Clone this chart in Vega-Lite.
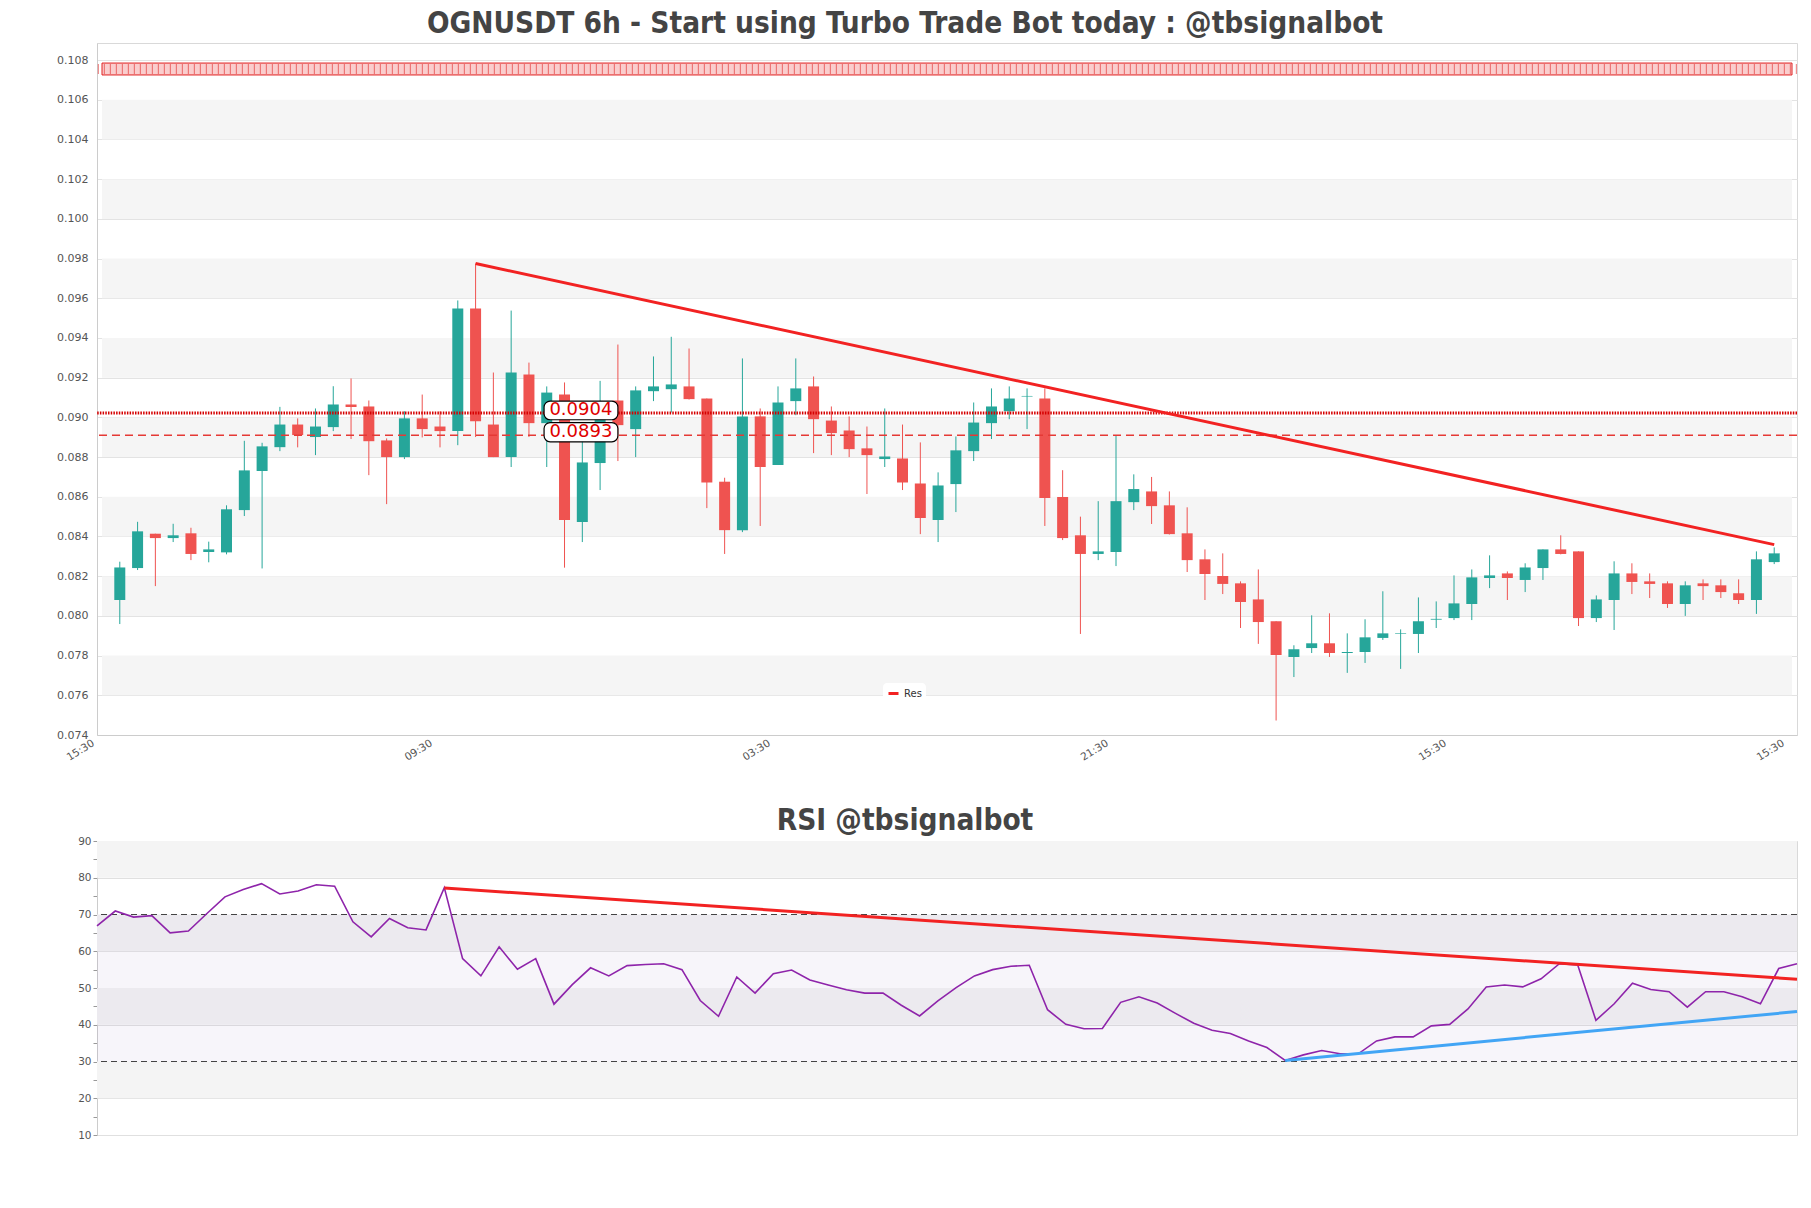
{
  "$schema": "https://vega.github.io/schema/vega-lite/v6.json",
  "background": "white",
  "padding": {"left": 56, "top": 8, "right": 10, "bottom": 10},
  "spacing": 41,
  "config": {
    "font": "DejaVu Sans",
    "view": {"stroke": "#d9d9d9", "strokeWidth": 1},
    "axis": {"labelOverlap": false},
    "title": {"font": "DejaVu Sans Condensed", "fontSize": 29.5, "fontWeight": "bold", "color": "#444444", "anchor": "middle", "dx": -42, "offset": 4}
  },
  "datasets": {
    "candles": [
      {"i":0,"o":0.0808,"h":0.08273,"l":0.07959,"c":0.08244},
      {"i":1,"o":0.08241,"h":0.08474,"l":0.08231,"c":0.08426},
      {"i":2,"o":0.08414,"h":0.08414,"l":0.0815,"c":0.08392},
      {"i":3,"o":0.08392,"h":0.08464,"l":0.08372,"c":0.08406},
      {"i":4,"o":0.08416,"h":0.08444,"l":0.08281,"c":0.08312},
      {"i":5,"o":0.08322,"h":0.08374,"l":0.0827,"c":0.08335},
      {"i":6,"o":0.0832,"h":0.08557,"l":0.0831,"c":0.08537},
      {"i":7,"o":0.08533,"h":0.08882,"l":0.08503,"c":0.08733},
      {"i":8,"o":0.0873,"h":0.08872,"l":0.08239,"c":0.08854},
      {"i":9,"o":0.0885,"h":0.09053,"l":0.0883,"c":0.08964},
      {"i":10,"o":0.08964,"h":0.08995,"l":0.08849,"c":0.08911},
      {"i":11,"o":0.08901,"h":0.09045,"l":0.0881,"c":0.08954},
      {"i":12,"o":0.08951,"h":0.09157,"l":0.08931,"c":0.09065},
      {"i":13,"o":0.09065,"h":0.09196,"l":0.08891,"c":0.09052},
      {"i":14,"o":0.09055,"h":0.09085,"l":0.08709,"c":0.0888},
      {"i":15,"o":0.08884,"h":0.08894,"l":0.08563,"c":0.088},
      {"i":16,"o":0.088,"h":0.09031,"l":0.0879,"c":0.08995},
      {"i":17,"o":0.08995,"h":0.09115,"l":0.08899,"c":0.08941},
      {"i":18,"o":0.08954,"h":0.09031,"l":0.08849,"c":0.08931},
      {"i":19,"o":0.08931,"h":0.09589,"l":0.0886,"c":0.09548},
      {"i":20,"o":0.09548,"h":0.09775,"l":0.08901,"c":0.08981},
      {"i":21,"o":0.08964,"h":0.09226,"l":0.088,"c":0.088},
      {"i":22,"o":0.088,"h":0.09538,"l":0.0875,"c":0.09226},
      {"i":23,"o":0.09216,"h":0.09276,"l":0.08901,"c":0.08971},
      {"i":24,"o":0.08971,"h":0.09156,"l":0.0875,"c":0.09125},
      {"i":25,"o":0.09115,"h":0.09176,"l":0.08243,"c":0.08483},
      {"i":26,"o":0.08473,"h":0.0892,"l":0.08372,"c":0.08773},
      {"i":27,"o":0.0877,"h":0.09184,"l":0.08634,"c":0.09},
      {"i":28,"o":0.09085,"h":0.09367,"l":0.0878,"c":0.08961},
      {"i":29,"o":0.08941,"h":0.09156,"l":0.088,"c":0.09136},
      {"i":30,"o":0.09132,"h":0.09307,"l":0.09082,"c":0.09156},
      {"i":31,"o":0.09142,"h":0.09406,"l":0.09025,"c":0.09166},
      {"i":32,"o":0.09156,"h":0.09347,"l":0.0909,"c":0.09092},
      {"i":33,"o":0.09095,"h":0.09095,"l":0.08543,"c":0.08672},
      {"i":34,"o":0.08676,"h":0.08696,"l":0.08312,"c":0.08432},
      {"i":35,"o":0.08432,"h":0.09297,"l":0.08422,"c":0.09005},
      {"i":36,"o":0.09005,"h":0.09045,"l":0.08453,"c":0.0875},
      {"i":37,"o":0.0876,"h":0.09156,"l":0.0876,"c":0.09075},
      {"i":38,"o":0.09082,"h":0.09297,"l":0.09011,"c":0.09146},
      {"i":39,"o":0.09156,"h":0.09206,"l":0.0882,"c":0.08991},
      {"i":40,"o":0.08984,"h":0.09055,"l":0.0881,"c":0.08921},
      {"i":41,"o":0.08934,"h":0.09005,"l":0.088,"c":0.0884},
      {"i":42,"o":0.08844,"h":0.08954,"l":0.08614,"c":0.0881},
      {"i":43,"o":0.0879,"h":0.09045,"l":0.0875,"c":0.08803},
      {"i":44,"o":0.08793,"h":0.08964,"l":0.08634,"c":0.08672},
      {"i":45,"o":0.08667,"h":0.08874,"l":0.08412,"c":0.08493},
      {"i":46,"o":0.08483,"h":0.08723,"l":0.08372,"c":0.08657},
      {"i":47,"o":0.08664,"h":0.08904,"l":0.08523,"c":0.08834},
      {"i":48,"o":0.0883,"h":0.09075,"l":0.0878,"c":0.08974},
      {"i":49,"o":0.08971,"h":0.09146,"l":0.08891,"c":0.09055},
      {"i":50,"o":0.09031,"h":0.09156,"l":0.08991,"c":0.09095},
      {"i":51,"o":0.09105,"h":0.09146,"l":0.08941,"c":0.09108},
      {"i":52,"o":0.09095,"h":0.09146,"l":0.08453,"c":0.08594},
      {"i":53,"o":0.08599,"h":0.08734,"l":0.08382,"c":0.08392},
      {"i":54,"o":0.08406,"h":0.085,"l":0.07909,"c":0.08312},
      {"i":55,"o":0.08312,"h":0.08578,"l":0.08281,"c":0.08325},
      {"i":56,"o":0.08322,"h":0.08911,"l":0.08251,"c":0.08578},
      {"i":57,"o":0.08573,"h":0.08713,"l":0.08533,"c":0.08639},
      {"i":58,"o":0.08627,"h":0.087,"l":0.08463,"c":0.08553},
      {"i":59,"o":0.08557,"h":0.08627,"l":0.0841,"c":0.08412},
      {"i":60,"o":0.08416,"h":0.08547,"l":0.08221,"c":0.08281},
      {"i":61,"o":0.08285,"h":0.08335,"l":0.0808,"c":0.08211},
      {"i":62,"o":0.08201,"h":0.08315,"l":0.0811,"c":0.08161},
      {"i":63,"o":0.08164,"h":0.08174,"l":0.07939,"c":0.0807},
      {"i":64,"o":0.08083,"h":0.08234,"l":0.07859,"c":0.07969},
      {"i":65,"o":0.07973,"h":0.07973,"l":0.07473,"c":0.07803},
      {"i":66,"o":0.07793,"h":0.07852,"l":0.07692,"c":0.07832},
      {"i":67,"o":0.07838,"h":0.08003,"l":0.07813,"c":0.07862},
      {"i":68,"o":0.07862,"h":0.08013,"l":0.07793,"c":0.07813},
      {"i":69,"o":0.07813,"h":0.07912,"l":0.07713,"c":0.07818},
      {"i":70,"o":0.07818,"h":0.07983,"l":0.07763,"c":0.07892},
      {"i":71,"o":0.07889,"h":0.08124,"l":0.07879,"c":0.07912},
      {"i":72,"o":0.07909,"h":0.07932,"l":0.07733,"c":0.07912},
      {"i":73,"o":0.07909,"h":0.08093,"l":0.07813,"c":0.07973},
      {"i":74,"o":0.07981,"h":0.08073,"l":0.07939,"c":0.07985},
      {"i":75,"o":0.07989,"h":0.08204,"l":0.07979,"c":0.08063},
      {"i":76,"o":0.0806,"h":0.08234,"l":0.07979,"c":0.08194},
      {"i":77,"o":0.08191,"h":0.08305,"l":0.0814,"c":0.08204},
      {"i":78,"o":0.08214,"h":0.08224,"l":0.0808,"c":0.08191},
      {"i":79,"o":0.08181,"h":0.08265,"l":0.0812,"c":0.08244},
      {"i":80,"o":0.08241,"h":0.08335,"l":0.08181,"c":0.08335},
      {"i":81,"o":0.08335,"h":0.08406,"l":0.0831,"c":0.08312},
      {"i":82,"o":0.08325,"h":0.08325,"l":0.07949,"c":0.07989},
      {"i":83,"o":0.07989,"h":0.08103,"l":0.07969,"c":0.08083},
      {"i":84,"o":0.0808,"h":0.08275,"l":0.07929,"c":0.08214},
      {"i":85,"o":0.08214,"h":0.08265,"l":0.0811,"c":0.08171},
      {"i":86,"o":0.08174,"h":0.08214,"l":0.0809,"c":0.08161},
      {"i":87,"o":0.08164,"h":0.08174,"l":0.0804,"c":0.0806},
      {"i":88,"o":0.0806,"h":0.08174,"l":0.08,"c":0.08154},
      {"i":89,"o":0.08164,"h":0.08184,"l":0.0808,"c":0.0815},
      {"i":90,"o":0.08154,"h":0.08184,"l":0.0809,"c":0.0812},
      {"i":91,"o":0.08114,"h":0.08184,"l":0.0806,"c":0.0808},
      {"i":92,"o":0.0808,"h":0.08325,"l":0.0801,"c":0.08285},
      {"i":93,"o":0.08271,"h":0.08345,"l":0.08261,"c":0.08315}
    ],
    "rsi": [
      {"i":0,"v":66.9},{"i":1,"v":70.95},{"i":2,"v":69.3},{"i":3,"v":69.7},{"i":4,"v":65.0},{"i":5,"v":65.5},{"i":6,"v":70.2},{"i":7,"v":74.8},{"i":8,"v":76.8},{"i":9,"v":78.4},
      {"i":10,"v":75.6},{"i":11,"v":76.4},{"i":12,"v":78.1},{"i":13,"v":77.7},{"i":14,"v":68.0},{"i":15,"v":63.9},{"i":16,"v":68.9},{"i":17,"v":66.4},{"i":18,"v":65.8},{"i":19,"v":77.3},
      {"i":20,"v":58.0},{"i":21,"v":53.3},{"i":22,"v":61.2},{"i":23,"v":55.1},{"i":24,"v":58.0},{"i":25,"v":45.6},{"i":26,"v":50.9},{"i":27,"v":55.5},{"i":28,"v":53.3},{"i":29,"v":56.1},
      {"i":30,"v":56.4},{"i":31,"v":56.6},{"i":32,"v":55.0},{"i":33,"v":46.6},{"i":34,"v":42.3},{"i":35,"v":53.0},{"i":36,"v":48.6},{"i":37,"v":53.9},{"i":38,"v":54.9},{"i":39,"v":52.2},
      {"i":40,"v":50.8},{"i":41,"v":49.5},{"i":42,"v":48.6},{"i":43,"v":48.6},{"i":44,"v":45.3},{"i":45,"v":42.4},{"i":46,"v":46.5},{"i":47,"v":50.1},{"i":48,"v":53.3},{"i":49,"v":55.0},
      {"i":50,"v":55.9},{"i":51,"v":56.2},{"i":52,"v":44.1},{"i":53,"v":40.1},{"i":54,"v":38.9},{"i":55,"v":39.0},{"i":56,"v":46.1},{"i":57,"v":47.6},{"i":58,"v":45.9},{"i":59,"v":43.1},
      {"i":60,"v":40.4},{"i":61,"v":38.5},{"i":62,"v":37.6},{"i":63,"v":35.6},{"i":64,"v":33.8},{"i":65,"v":30.3},{"i":66,"v":31.8},{"i":67,"v":33.0},{"i":68,"v":32.1},{"i":69,"v":32.1},
      {"i":70,"v":35.6},{"i":71,"v":36.7},{"i":72,"v":36.7},{"i":73,"v":39.7},{"i":74,"v":40.1},{"i":75,"v":44.3},{"i":76,"v":50.3},{"i":77,"v":50.8},{"i":78,"v":50.3},{"i":79,"v":52.5},
      {"i":80,"v":56.6},{"i":81,"v":56.3},{"i":82,"v":41.2},{"i":83,"v":45.7},{"i":84,"v":51.3},{"i":85,"v":49.6},{"i":86,"v":49.0},{"i":87,"v":44.8},{"i":88,"v":49.0},{"i":89,"v":49.0},
      {"i":90,"v":47.6},{"i":91,"v":45.7},{"i":92,"v":55.3},{"i":93,"v":56.6}
    ],
    "bandsTop": [
      {"y0":0.076,"y1":0.078},{"y0":0.080,"y1":0.082},{"y0":0.084,"y1":0.086},{"y0":0.088,"y1":0.090},
      {"y0":0.092,"y1":0.094},{"y0":0.096,"y1":0.098},{"y0":0.100,"y1":0.102},{"y0":0.104,"y1":0.106}
    ],
    "bandsRsi": [
      {"y0":20,"y1":30},{"y0":40,"y1":50},{"y0":60,"y1":70},{"y0":80,"y1":90}
    ],
    "resTrend": [
      {"i":20,"p":0.09775,"name":"Res"},{"i":93,"p":0.08359,"name":"Res"}
    ],
    "levelLabels": [
      {"x0":23.85,"x1":28.0,"b0":0.08988,"b1":0.09082,"ty":0.09035,"tx":25.92,"label":"0.0904"},
      {"x0":23.85,"x1":28.0,"b0":0.08877,"b1":0.08974,"ty":0.08926,"tx":25.92,"label":"0.0893"}
    ],
    "rsiRes": [{"i":19,"v":77.2},{"i":93,"v":52.4}],
    "rsiSup": [{"i":65,"v":30.3},{"i":93,"v":43.6}],
    "one": [{}]
  },
  "vconcat": [
    {
      "width": 1700,
      "height": 692,
      "title": {"text": "OGNUSDT 6h - Start using Turbo Trade Bot today : @tbsignalbot"},
      "layer": [
        {
          "data": {"name": "bandsTop"},
          "mark": {"type": "rect", "color": "#f5f5f5"},
          "encoding": {
            "x": {"datum": -1, "type": "quantitative", "scale": {"domain": [-1, 94], "nice": false, "zero": false},
              "axis": {"values": [-1, 18, 37, 56, 75, 94], "labelExpr": "datum.value == -1 ? '15:30' : datum.value == 18 ? '09:30' : datum.value == 37 ? '03:30' : datum.value == 56 ? '21:30' : '15:30'", "labelAngle": -32, "labelAlign": "right", "labelBaseline": "middle", "labelPadding": 7, "labelOffset": -9, "ticks": false, "grid": false, "domainColor": "#cccccc", "labelColor": "#555555", "labelFontSize": 10.5, "title": null, "labelOverlap": false, "labelBound": false, "labelFlush": false}},
            "x2": {"datum": 94},
            "y": {"field": "y0", "type": "quantitative", "scale": {"domain": [0.074, 0.10886], "nice": false, "zero": false},
              "axis": {"values": [0.074,0.076,0.078,0.08,0.082,0.084,0.086,0.088,0.09,0.092,0.094,0.096,0.098,0.1,0.102,0.104,0.106,0.108], "format": ".3f", "grid": true, "gridColor": "#e3e3e3", "ticks": false, "labelPadding": 9, "domainColor": "#cccccc", "labelColor": "#555555", "labelFontSize": 11, "title": null, "labelFlush": false, "labelOverlap": false}},
            "y2": {"field": "y1"}
          }
        },
        {
          "data": {"name": "one"},
          "mark": {"type": "rect", "fill": "#f07070", "fillOpacity": 0.35, "stroke": "#e02020", "strokeWidth": 1},
          "encoding": {
            "x": {"datum": -1, "type": "quantitative"},
            "x2": {"datum": 94},
            "y": {"datum": 0.10725, "type": "quantitative"},
            "y2": {"datum": 0.10785}
          }
        },
        {
          "data": {"name": "one"},
          "mark": {"type": "rule", "color": "#e02020", "strokeWidth": 10, "strokeDash": [1.2, 4.8], "opacity": 0.5},
          "encoding": {"y": {"datum": 0.10755, "type": "quantitative"}}
        },
        {
          "data": {"name": "candles"},
          "mark": {"type": "rule", "strokeWidth": 1},
          "encoding": {
            "x": {"field": "i", "type": "quantitative"},
            "y": {"field": "l", "type": "quantitative"},
            "y2": {"field": "h"},
            "color": {"condition": {"test": "datum.c >= datum.o", "value": "#26a69a"}, "value": "#ef5350"}
          }
        },
        {
          "data": {"name": "candles"},
          "mark": {"type": "bar", "size": 11},
          "encoding": {
            "x": {"field": "i", "type": "quantitative"},
            "y": {"field": "o", "type": "quantitative"},
            "y2": {"field": "c"},
            "color": {"condition": {"test": "datum.c >= datum.o", "value": "#26a69a"}, "value": "#ef5350"}
          }
        },
        {
          "data": {"name": "one"},
          "mark": {"type": "rule", "color": "#d50000", "strokeWidth": 3, "strokeDash": [1.5, 1.2]},
          "encoding": {"y": {"datum": 0.09022, "type": "quantitative"}}
        },
        {
          "data": {"name": "one"},
          "mark": {"type": "rule", "color": "#e53935", "strokeWidth": 1.5, "strokeDash": [8, 5]},
          "encoding": {"y": {"datum": 0.0891, "type": "quantitative"}}
        },
        {
          "data": {"name": "resTrend"},
          "mark": {"type": "line", "strokeWidth": 3},
          "encoding": {
            "x": {"field": "i", "type": "quantitative"},
            "y": {"field": "p", "type": "quantitative"},
            "color": {"field": "name", "type": "nominal", "scale": {"range": ["#f22222"]},
              "legend": {"title": null, "orient": "none", "legendX": 786, "legendY": 640, "fillColor": "white", "padding": 4, "cornerRadius": 4, "symbolType": "stroke", "symbolStrokeWidth": 3, "symbolSize": 100, "symbolStrokeColor": "#d01010", "labelFontSize": 10, "labelColor": "#333333"}}
          }
        },
        {
          "data": {"name": "levelLabels"},
          "mark": {"type": "rect", "fill": "white", "stroke": "black", "strokeWidth": 1.2, "cornerRadius": 6},
          "encoding": {
            "x": {"field": "x0", "type": "quantitative"},
            "x2": {"field": "x1"},
            "y": {"field": "b0", "type": "quantitative"},
            "y2": {"field": "b1"}
          }
        },
        {
          "data": {"name": "levelLabels"},
          "mark": {"type": "text", "color": "#e00000", "fontSize": 18, "font": "DejaVu Sans", "baseline": "middle", "align": "center"},
          "encoding": {
            "x": {"field": "tx", "type": "quantitative"},
            "y": {"field": "ty", "type": "quantitative"},
            "text": {"field": "label"}
          }
        }
      ]
    },
    {
      "width": 1700,
      "height": 294,
      "title": {"text": "RSI @tbsignalbot", "offset": 0},
      "layer": [
        {
          "data": {"name": "rsi"},
          "mark": {"type": "line", "color": "#8e24aa", "strokeWidth": 1.6, "opacity": 0},
          "encoding": {
            "x": {"field": "i", "type": "quantitative", "scale": {"domain": [0, 93], "nice": false, "zero": false},
              "axis": {"labels": false, "ticks": false, "domain": false, "grid": false, "title": null}},
            "y": {"field": "v", "type": "quantitative", "scale": {"domain": [10, 90], "nice": false, "zero": false},
              "axis": {"values": [10,15,20,25,30,35,40,45,50,55,60,65,70,75,80,85,90], "tickCount": 17, "labelExpr": "datum.value % 10 === 0 ? datum.label : ''", "grid": true, "gridColor": "#e0e0e0", "gridOpacity": {"condition": {"test": "datum.value % 10 === 0", "value": 1}, "value": 0}, "ticks": true, "tickSize": 4, "tickColor": "#999999", "labelPadding": 2, "domainColor": "#cccccc", "labelColor": "#555555", "labelFontSize": 10.5, "title": null, "labelFlush": false, "labelOverlap": false}}
          }
        },
        {
          "data": {"name": "bandsRsi"},
          "mark": {"type": "rect", "color": "#f4f4f4"},
          "encoding": {
            "x": {"datum": 0, "type": "quantitative"},
            "x2": {"datum": 93},
            "y": {"field": "y0", "type": "quantitative"},
            "y2": {"field": "y1"}
          }
        },
        {
          "data": {"name": "one"},
          "mark": {"type": "rect", "fill": "#8e6bbf", "fillOpacity": 0.07},
          "encoding": {
            "x": {"datum": 0, "type": "quantitative"},
            "x2": {"datum": 93},
            "y": {"datum": 30, "type": "quantitative"},
            "y2": {"datum": 70}
          }
        },
        {
          "data": {"name": "one"},
          "mark": {"type": "rule", "color": "#444444", "strokeWidth": 1.2, "strokeDash": [6, 4]},
          "encoding": {"y": {"datum": 70, "type": "quantitative"}}
        },
        {
          "data": {"name": "one"},
          "mark": {"type": "rule", "color": "#444444", "strokeWidth": 1.2, "strokeDash": [6, 4]},
          "encoding": {"y": {"datum": 30, "type": "quantitative"}}
        },
        {
          "data": {"name": "rsi"},
          "mark": {"type": "line", "color": "#8e24aa", "strokeWidth": 1.6},
          "encoding": {
            "x": {"field": "i", "type": "quantitative"},
            "y": {"field": "v", "type": "quantitative"}
          }
        },
        {
          "data": {"name": "rsiRes"},
          "mark": {"type": "line", "color": "#f22222", "strokeWidth": 3},
          "encoding": {
            "x": {"field": "i", "type": "quantitative"},
            "y": {"field": "v", "type": "quantitative"}
          }
        },
        {
          "data": {"name": "rsiSup"},
          "mark": {"type": "line", "color": "#42a5f5", "strokeWidth": 3},
          "encoding": {
            "x": {"field": "i", "type": "quantitative"},
            "y": {"field": "v", "type": "quantitative"}
          }
        }
      ]
    }
  ]
}
